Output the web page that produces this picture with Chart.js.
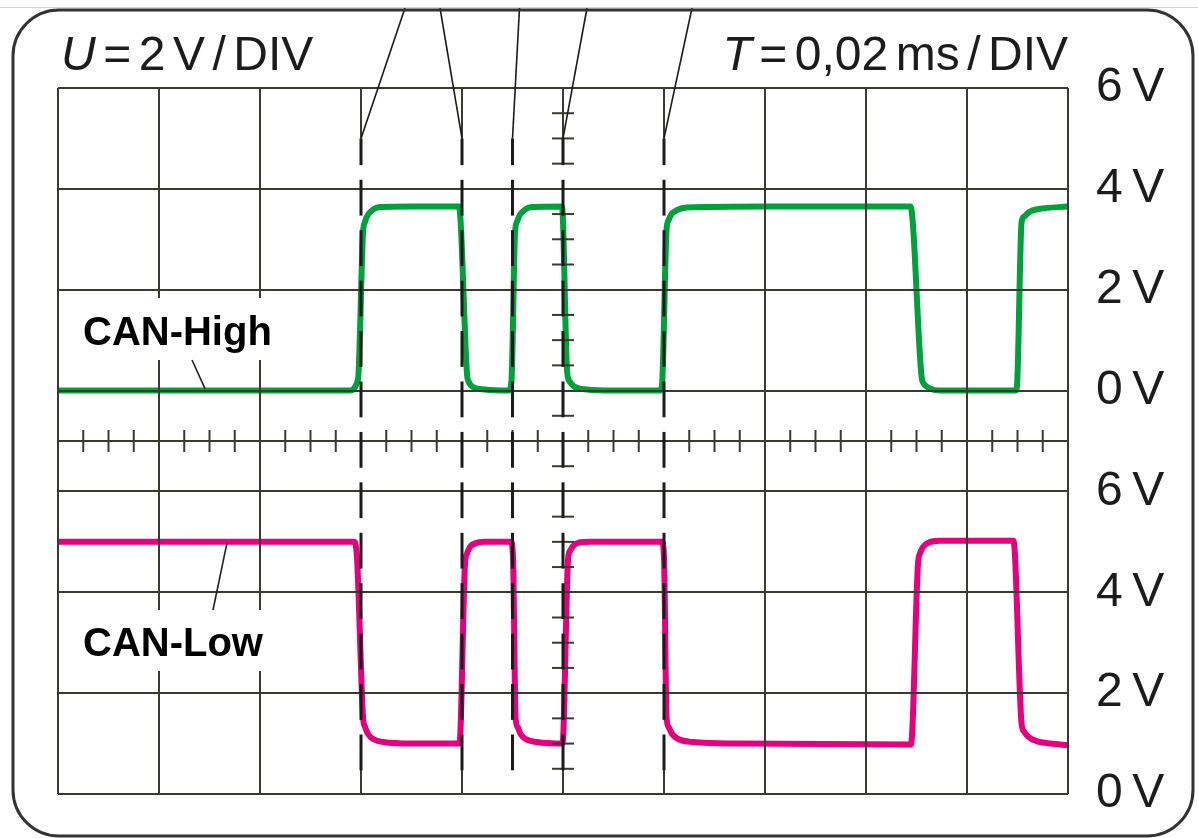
<!DOCTYPE html>
<html>
<head>
<meta charset="utf-8">
<title>CAN-High / CAN-Low</title>
<script src="https://cdn.jsdelivr.net/npm/chart.js@4.4.1/dist/chart.umd.min.js"></script>
<style>
  html,body{margin:0;padding:0;background:#fff}
  #wrap{position:relative;width:1198px;height:838px}
</style>
</head>
<body>
<div id="wrap"><canvas id="scope"></canvas></div>
<script>
// time in µs (0,02 ms/DIV = 20 µs per division), voltage in V (2 V/DIV)
const chTime = [0, 57.6, 59.4, 60.4, 60.8, 61.4, 62.4, 63.8, 70, 79.4, 81.0, 81.4, 82.2, 84.5, 89.3, 89.8, 90.5, 90.9, 91.5, 92.5, 93.9, 99.8, 100.8, 101.3, 102.2, 104.7, 110, 119.2, 119.6, 120.5, 120.9, 121.5, 122.6, 124.5, 140, 168.8, 171.0, 171.5, 172.5, 174.6, 189.6, 189.9, 190.8, 191.3, 192.3, 194.3, 200];
const chVolt = [0, 0, 0.22, 3.13, 3.35, 3.49, 3.59, 3.64, 3.65, 3.65, 0.32, 0.16, 0.07, 0.02, 0, 0.2, 3.13, 3.35, 3.49, 3.59, 3.64, 3.65, 0.4, 0.18, 0.08, 0.02, 0, 0, 0.1, 3.19, 3.38, 3.5, 3.58, 3.63, 3.65, 3.65, 0.28, 0.13, 0.05, 0, 0, 0.1, 3.33, 3.45, 3.54, 3.6, 3.65];

const clTime = [0, 58.6, 59.2, 60.4, 60.8, 61.4, 62.4, 64.4, 70, 79.5, 80.6, 81.0, 81.6, 82.6, 84.5, 89.7, 90.1, 90.6, 91.0, 91.6, 92.6, 94.8, 99.9, 101.0, 101.4, 102.0, 103.0, 105.3, 119.6, 120.0, 120.5, 120.9, 121.6, 122.8, 125.7, 135, 168.9, 170.3, 170.7, 171.3, 172.3, 174.6, 189.2, 190.8, 191.3, 192.2, 193.8, 196.5, 200];
const clVolt = [5.0, 5.0, 4.7, 1.53, 1.33, 1.19, 1.09, 1.03, 1.0, 1.0, 4.57, 4.77, 4.9, 4.97, 5.0, 5.0, 4.7, 1.53, 1.33, 1.19, 1.09, 1.03, 1.0, 4.65, 4.82, 4.92, 4.98, 5.0, 5.0, 4.7, 1.53, 1.33, 1.19, 1.09, 1.03, 1.0, 0.98, 4.57, 4.77, 4.9, 4.98, 5.02, 5.02, 1.40, 1.24, 1.13, 1.05, 1.0, 0.97];

// right-hand scale: lower trace 0..6 V, centre line, upper trace 0..6 V
const yTickValues = [0, 2, 4, 6, 7, 8, 10, 12, 14];
const yTickLabels = ['0\u2009V', '2\u2009V', '4\u2009V', '6\u2009V', '', '0\u2009V', '2\u2009V', '4\u2009V', '6\u2009V'];

// bit edges marked with dashed lines
const markerTimes = [60, 80, 90, 100, 120];
const leaderShift = [44, -22, 7, 24, 28]; // top end of the pointer lines, px from marker

const seriesNames = ['CAN-High', 'CAN-Low'];
const titleLeft = [['U', true], ['=', false], ['2', false], ['V', false], ['/', false], ['DIV', false]];
const titleRight = [['T', true], ['=', false], ['0,02', false], ['ms', false], ['/', false], ['DIV', false]];

const GREEN = '#00a13a', PINK = '#e5007d', GRID = '#3a3a32', INK = '#1c1c1c';
const FONT = '"Liberation Sans", Arial, sans-serif';

function seg(ctx, x1, y1, x2, y2) { ctx.beginPath(); ctx.moveTo(x1, y1); ctx.lineTo(x2, y2); ctx.stroke(); }

function pieces(ctx, parts, x, y, gap) {
  parts.forEach(([t, it]) => {
    ctx.font = (it ? 'italic ' : '') + '48px ' + FONT;
    ctx.fillText(t, x, y);
    x += ctx.measureText(t).width + gap;
  });
}
function piecesWidth(ctx, parts, gap) {
  let w = 0;
  parts.forEach(([t, it]) => { ctx.font = (it ? 'italic ' : '') + '48px ' + FONT; w += ctx.measureText(t).width; });
  return w + gap * (parts.length - 1);
}

const scopeDecor = {
  id: 'scopeDecor',
  afterDraw(chart) {
    const {ctx, scales: {x, y}} = chart;
    const px = t => x.getPixelForValue(t), py = v => y.getPixelForValue(v);
    ctx.save();
    ctx.lineCap = 'butt';

    // grid segments above / below the dashed markers
    ctx.strokeStyle = GRID; ctx.lineWidth = 2;
    markerTimes.forEach(t => {
      if (t % 20) return;
      const X = Math.round(px(t));
      seg(ctx, X, py(14), X, py(13));
      seg(ctx, X, py(0.5), X, py(0));
    });

    // minor ticks on the centre axes
    const cy = py(7), cx = px(100);
    for (let t = 5; t < 200; t += 5) if (t % 20) seg(ctx, px(t), cy - 11, px(t), cy + 11);
    for (let v = 0.5; v < 14; v += 0.5) if (v % 2 && v !== 7) seg(ctx, cx - 11, py(v), cx + 11, py(v));

    // dashed markers
    ctx.strokeStyle = '#1b1b1b'; ctx.lineWidth = 3;
    markerTimes.forEach((t, i) => {
      const X = px(t);
      for (let k = 13; k >= 1; k--) seg(ctx, X, py(Math.min(k + 0.18, 13)), X, py(k - 0.53));
      ctx.lineWidth = 1.6;
      seg(ctx, X + leaderShift[i], 8, X, py(13));
      ctx.lineWidth = 3;
    });

    // label boxes
    ctx.fillStyle = '#fff';
    ctx.fillRect(68, 298, 260, 62);
    ctx.fillRect(68, 610, 234, 61);
    ctx.fillStyle = '#000';
    ctx.font = 'bold 40px ' + FONT;
    ctx.textBaseline = 'alphabetic';
    ctx.fillText(seriesNames[0], 83, 345);
    ctx.fillText(seriesNames[1], 83, 656);
    ctx.strokeStyle = '#222'; ctx.lineWidth = 1.6;
    seg(ctx, 192, 360, 205, py(8) - 2);
    seg(ctx, 227, py(5.0) + 1, 213, 610);

    // titles
    ctx.fillStyle = INK;
    pieces(ctx, titleLeft, 61, 70, 7.5);
    pieces(ctx, titleRight, 1068 - piecesWidth(ctx, titleRight, 7.5), 70, 7.5);

    // screen frame
    ctx.strokeStyle = '#d4d4d4'; ctx.lineWidth = 1;
    seg(ctx, 0, 7.5, 1198, 7.5);
    ctx.strokeStyle = '#333'; ctx.lineWidth = 3;
    const L = 13, T = 10, R = 1193, B = 836, r = 46;
    ctx.beginPath();
    ctx.moveTo(L + r, T);
    ctx.arcTo(R, T, R, B, r);
    ctx.arcTo(R, B, L, B, r);
    ctx.arcTo(L, B, L, T, r);
    ctx.arcTo(L, T, R, T, r);
    ctx.closePath();
    ctx.stroke();
    ctx.restore();
  }
};

const toPts = (ts, vs) => ts.map((t, i) => ({x: t, y: vs[i]}));

new Chart(document.getElementById('scope'), {
  type: 'line',
  data: {
    datasets: [
      {label: seriesNames[0], data: toPts(chTime, chVolt), yAxisID: 'yHigh', borderColor: GREEN, borderWidth: 6},
      {label: seriesNames[1], data: toPts(clTime, clVolt), yAxisID: 'y', borderColor: PINK, borderWidth: 6}
    ]
  },
  options: {
    responsive: true,
    maintainAspectRatio: false,
    animation: false,
    events: [],
    layout: {padding: {left: 58, top: 88, right: 0, bottom: 44}},
    elements: {
      point: {radius: 0},
      line: {cubicInterpolationMode: 'monotone', fill: false, borderJoinStyle: 'round', borderCapStyle: 'butt'}
    },
    plugins: {legend: {display: false}, tooltip: {enabled: false}},
    scales: {
      x: {
        type: 'linear', min: 0, max: 200,
        ticks: {display: false, stepSize: 20},
        grid: {
          z: 1, lineWidth: 2, drawTicks: false,
          color: c => (markerTimes.includes(c.tick.value) ? 'rgba(0,0,0,0)' : GRID)
        },
        border: {display: false},
        afterFit: s => { s.height = 0; }
      },
      y: {
        type: 'linear', position: 'right', min: 0, max: 14,
        afterBuildTicks: s => { s.ticks = yTickValues.map(v => ({value: v})); },
        ticks: {
          callback: (v, i) => yTickLabels[i],
          padding: 28, color: INK,
          font: {family: FONT, size: 48}
        },
        grid: {z: 1, lineWidth: 2, drawTicks: false, color: GRID},
        border: {display: false},
        afterFit: s => { s.width = 130; s.paddingTop = 0; s.paddingBottom = 0; }
      },
      yHigh: {type: 'linear', display: false, min: -8, max: 6}
    }
  },
  plugins: [scopeDecor]
});
</script>
</body>
</html>
